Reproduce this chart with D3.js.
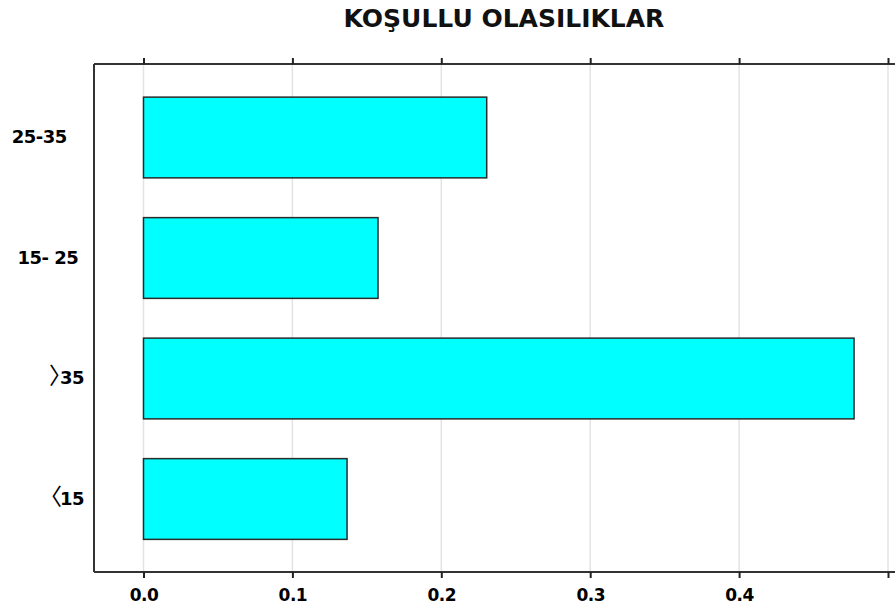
<!DOCTYPE html>
<html>
<head>
<meta charset="utf-8">
<script src="https://cdn.jsdelivr.net/npm/d3@7"></script>
<style>
  html, body { margin: 0; padding: 0; background: #fff; }
  svg { display: block; }
  text { white-space: pre; }
</style>
</head>
<body>
<svg id="chart" width="895" height="612"></svg>
<script>
// Data (top to bottom)
const categories = ["25-35", "15- 25", "〉35", "〈15"];
const labelSuffix = ["   ", " ", "", ""];
const values = [0.2305, 0.1575, 0.4772, 0.1367];
const xTicks = [0, 0.1, 0.2, 0.3, 0.4, 0.5];
const xTickLabels = ["0.0", "0.1", "0.2", "0.3", "0.4", ""];
const title = "KOŞULLU OLASILIKLAR";

const svg = d3.select("#chart");
const frame = { left: 94, top: 64, bottom: 572, right: 895 };

const x = d3.scaleLinear().domain([0, 0.5]).range([143.5, 888]);
const y = d3.scaleBand().domain(categories).range([77.25, 559.25])
  .paddingInner(0.33).paddingOuter(0.165);

// Title
svg.append("text")
  .attr("x", 504).attr("y", 27)
  .attr("text-anchor", "middle")
  .attr("font-family", "DejaVu Sans, sans-serif")
  .attr("font-weight", "bold")
  .attr("font-size", 25)
  .attr("fill", "#111")
  .text(title);

// Grid lines
svg.append("g").selectAll("line").data(xTicks).join("line")
  .attr("x1", d => x(d)).attr("x2", d => x(d))
  .attr("y1", frame.top).attr("y2", frame.bottom)
  .attr("stroke", "#e3e3e3").attr("stroke-width", 1.5);

// Bars
svg.append("g").selectAll("rect").data(categories).join("rect")
  .attr("x", x(0))
  .attr("y", d => y(d))
  .attr("width", (d, i) => x(values[i]) - x(0))
  .attr("height", y.bandwidth())
  .attr("fill", "#00ffff")
  .attr("stroke", "#2a2a2a")
  .attr("stroke-width", 1.5);

// Frame (left, top, bottom)
const fr = svg.append("g").attr("stroke", "#333").attr("stroke-width", 2).attr("fill", "none");
fr.append("line").attr("x1", frame.left).attr("x2", frame.left).attr("y1", frame.top).attr("y2", frame.bottom);
fr.append("line").attr("x1", frame.left).attr("x2", frame.right).attr("y1", frame.top).attr("y2", frame.top);
fr.append("line").attr("x1", frame.left).attr("x2", frame.right).attr("y1", frame.bottom).attr("y2", frame.bottom);

// Bottom axis
const xAxisB = d3.axisBottom(x).tickValues(xTicks)
  .tickFormat((d, i) => xTickLabels[i]).tickSize(6).tickPadding(11);
const gb = svg.append("g").attr("transform", `translate(0,${frame.bottom})`).call(xAxisB);
gb.select(".domain").remove();
gb.selectAll(".tick line").attr("stroke", "#222").attr("stroke-width", 2);
gb.selectAll(".tick text")
  .attr("font-family", "DejaVu Sans, sans-serif")
  .attr("font-weight", "bold")
  .attr("font-size", 17)
  .attr("letter-spacing", -0.5)
  .attr("fill", "#000");

// Top axis (ticks only)
const xAxisT = d3.axisTop(x).tickValues(xTicks).tickFormat("").tickSize(6);
const gt = svg.append("g").attr("transform", `translate(0,${frame.top})`).call(xAxisT);
gt.select(".domain").remove();
gt.selectAll(".tick line").attr("stroke", "#222").attr("stroke-width", 2);

// Left labels
const yAxis = d3.axisLeft(y).tickSize(0).tickPadding(0).tickFormat(() => "");
const gl = svg.append("g").attr("transform", `translate(84,0)`).call(yAxis);
gl.select(".domain").remove();
gl.selectAll(".tick text").each(function (d, i) {
  const t = d3.select(this)
    .attr("font-family", "DejaVu Sans, sans-serif")
    .attr("font-weight", "bold")
    .attr("font-size", 18)
    .attr("letter-spacing", -0.5)
    .attr("fill", "#000");
  const first = d.charAt(0);
  if (first === "〉" || first === "〈") {
    t.append("tspan")
      .attr("font-family", "Noto Sans CJK SC, sans-serif")
      .attr("font-weight", "normal")
      .attr("font-size", 23)
      .attr("letter-spacing", first === "〉" ? -12 : -2)
      .text(first);
    t.append("tspan").text(d.slice(1) + labelSuffix[i]);
  } else {
    t.append("tspan").text(d + labelSuffix[i]);
  }
});
</script>
</body>
</html>
